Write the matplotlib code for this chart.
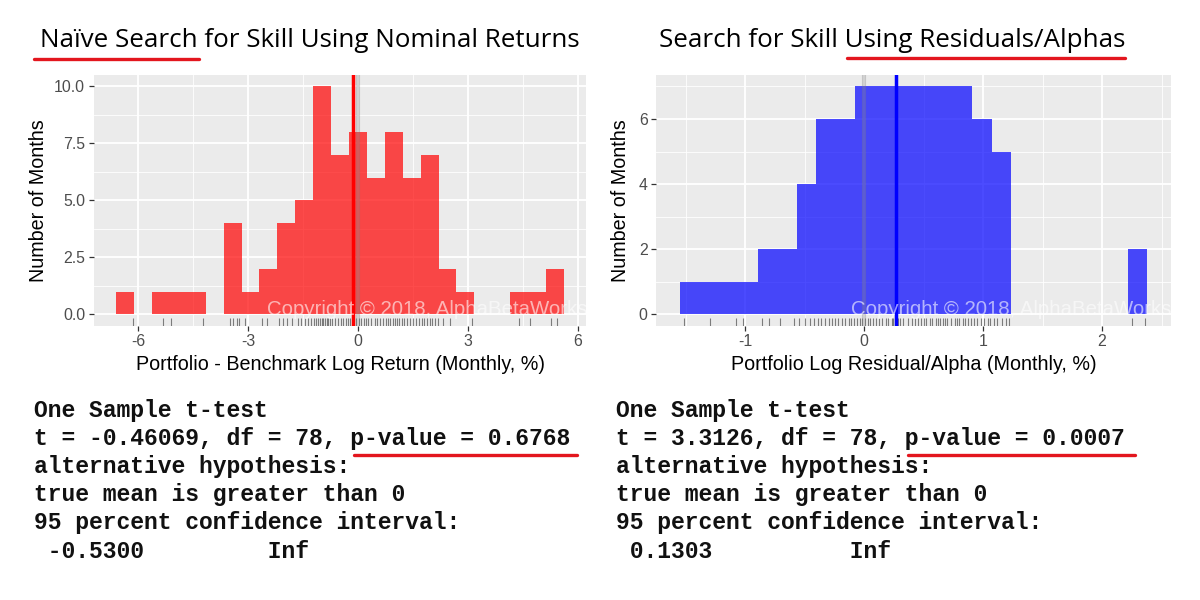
import matplotlib
matplotlib.use("Agg")
import matplotlib.pyplot as plt
from matplotlib.lines import Line2D
from matplotlib.ticker import MultipleLocator, FixedLocator
import matplotlib.transforms as mtransforms

W, H = 1200, 600

# ---- data ----
left_title = "Naïve Search for Skill Using Nominal Returns"
right_title = "Search for Skill Using Residuals/Alphas"

left_xlabel = "Portfolio - Benchmark Log Return (Monthly, %)"
right_xlabel = "Portfolio Log Residual/Alpha (Monthly, %)"
ylabel = "Number of Months"

left_bin_start = -6.606
left_bin_width = 0.489
left_counts = [1, 0, 1, 1, 1, 0, 4, 1, 2, 4, 5, 10, 7, 8, 6, 8, 6, 7, 2, 1,
               0, 0, 1, 1, 2]
left_mean = -0.136

right_bin_start = -1.552
right_bin_width = 0.1639
right_counts = [1, 1, 1, 1, 2, 2, 4, 6, 6, 7, 7, 7, 7, 7, 7, 6, 5, 0, 0, 0,
                0, 0, 0, 2]
right_mean = 0.265

left_rug = [-6.15, -5.33, -5.10, -4.23, -3.50, -3.42, -3.32, -3.24, -3.08,
            -2.62, -2.50, -2.15, -2.05, -1.93, -1.80, -1.65, -1.55, -1.45,
            -1.38, -1.30, -1.20, -1.15, -1.10, -1.05, -1.00, -0.95, -0.90,
            -0.86, -0.81, -0.76, -0.70, -0.62, -0.55, -0.48, -0.40, -0.33,
            -0.27, -0.22, -0.15, -0.10, -0.05, 0.02, 0.08, 0.15, 0.21, 0.28,
            0.36, 0.45, 0.52, 0.60, 0.68, 0.76, 0.82, 0.88, 0.95, 1.01, 1.07,
            1.13, 1.19, 1.25, 1.33, 1.42, 1.50, 1.58, 1.66, 1.74, 1.80, 1.88,
            1.95, 2.02, 2.10, 2.17, 2.33, 2.50, 3.10, 4.39, 4.70, 5.28, 5.44]

right_rug = [-1.52, -1.30, -1.08, -1.02, -0.86, -0.80, -0.71, -0.59, -0.55,
             -0.50, -0.46, -0.42, -0.39, -0.36, -0.33, -0.30, -0.27, -0.25,
             -0.22, -0.19, -0.16, -0.13, -0.11, -0.09, -0.06, -0.04, -0.02,
             0.01, 0.03, 0.05, 0.07, 0.10, 0.12, 0.15, 0.18, 0.20, 0.23, 0.24,
             0.26, 0.27, 0.28, 0.30, 0.33, 0.37, 0.40, 0.43, 0.45, 0.48, 0.50,
             0.52, 0.55, 0.57, 0.60, 0.62, 0.64, 0.66, 0.68, 0.70, 0.73, 0.76,
             0.78, 0.80, 0.83, 0.85, 0.87, 0.90, 0.92, 0.95, 0.98, 1.01, 1.04,
             1.06, 1.09, 1.12, 1.16, 1.19, 1.22, 2.25, 2.36]

left_xticks = [-6, -3, 0, 3, 6]
left_yticks = [0, 2.5, 5, 7.5, 10]
left_yticklabels = ["0.0", "2.5", "5.0", "7.5", "10.0"]
right_xticks = [-1, 0, 1, 2]
right_yticks = [0, 2, 4, 6]

left_test = [
    "One Sample t-test",
    "t = -0.46069, df = 78, p-value = 0.6768",
    "alternative hypothesis:",
    "true mean is greater than 0",
    "95 percent confidence interval:",
    " -0.5300         Inf",
]
right_test = [
    "One Sample t-test",
    "t = 3.3126, df = 78, p-value = 0.0007",
    "alternative hypothesis:",
    "true mean is greater than 0",
    "95 percent confidence interval:",
    " 0.1303          Inf",
]

watermark = "Copyright © 2018, AlphaBetaWorks"

UL_RED = "#E3161E"


def fx(x):
    return x / W


def fy(y):
    return 1 - y / H


def draw_panel(ax, start, width, counts, mean, rug, color, xlim, ylim,
               xticks, yticks, yticklabels, xminor, yminor, wm_x):
    ax.set_facecolor("#EBEBEB")
    for s in ax.spines.values():
        s.set_visible(False)
    lefts = [start + i * width for i in range(len(counts))]
    ax.bar(lefts, counts, width=width, align="edge", color=color,
           alpha=0.7, linewidth=0, zorder=2)
    ax.set_xlim(*xlim)
    ax.set_ylim(*ylim)
    ax.xaxis.set_major_locator(FixedLocator(xticks))
    ax.yaxis.set_major_locator(FixedLocator(yticks))
    ax.set_yticklabels(yticklabels if yticklabels else [str(t) for t in yticks])
    ax.set_xticklabels([str(t) for t in xticks])
    ax.xaxis.set_minor_locator(MultipleLocator(xminor))
    ax.yaxis.set_minor_locator(MultipleLocator(yminor))
    ax.grid(which="major", color="white", linewidth=1.3, zorder=0)
    ax.grid(which="minor", color="white", linewidth=0.6, zorder=0)
    ax.set_axisbelow(True)
    ax.tick_params(which="major", length=3.3, width=0.9, color="#333333",
                   labelsize=11.4, labelcolor="#4D4D4D", pad=3)
    ax.tick_params(which="minor", length=0)

    trans = mtransforms.blended_transform_factory(ax.transData, ax.transAxes)
    for v in rug:
        ax.plot([v, v], [0, 0.03], color="#333333", alpha=0.6, lw=0.8,
                transform=trans, zorder=3, solid_capstyle="butt")

    ax.axvline(0, color="gray", alpha=0.35, lw=3, zorder=3)
    ax.axvline(mean, color=color, lw=2.5, zorder=4)

    ax.text(wm_x, 0.063, watermark, transform=ax.transAxes, ha="left",
            va="center", color="white", alpha=0.6, fontsize=14.7,
            clip_on=True, zorder=5)


plt.rcParams["font.family"] = ["Liberation Sans", "DejaVu Sans"]

fig = plt.figure(figsize=(12, 6), dpi=100)
fig.patch.set_facecolor("white")

# panels (pixel boxes from the reference)
lx0, lx1 = 93.9, 586.2
rx0, rx1 = 656.3, 1170.9
ptop, pbot = 75.0, 325.7

axl = fig.add_axes([fx(lx0), fy(pbot), (lx1 - lx0) / W, (pbot - ptop) / H])
axr = fig.add_axes([fx(rx0), fy(pbot), (rx1 - rx0) / W, (pbot - ptop) / H])

draw_panel(axl, left_bin_start, left_bin_width, left_counts, left_mean,
           left_rug, "red", (-7.217, 6.230), (-0.5, 10.5),
           left_xticks, left_yticks, left_yticklabels, 1.5, 1.25, 0.352)
draw_panel(axr, right_bin_start, right_bin_width, right_counts, right_mean,
           right_rug, "blue", (-1.749, 2.579), (-0.35, 7.35),
           right_xticks, right_yticks, None, 0.5, 1.0, 0.378)

# axis titles
fig.text(fx((lx0 + lx1) / 2), fy(365), left_xlabel, ha="center", va="center",
         fontsize=14.2, color="black")
fig.text(fx((rx0 + rx1) / 2), fy(365), right_xlabel, ha="center",
         va="center", fontsize=14.2, color="black")
fig.text(fx(38.3), fy((ptop + pbot) / 2), ylabel, rotation=90, ha="center",
         va="center", fontsize=14.2, color="black")
fig.text(fx(621), fy((ptop + pbot) / 2), ylabel, rotation=90, ha="center",
         va="center", fontsize=14.2, color="black")

# headline titles
fig.text(fx(40), fy(46.7), left_title, ha="left", va="baseline",
         fontsize=18.7, family=["Open Sans", "DejaVu Sans"], color="black")
fig.text(fx(659.4), fy(46.7), right_title, ha="left", va="baseline",
         fontsize=18.7, family=["Open Sans", "DejaVu Sans"], color="black")

# t-test printouts
for i, (ltxt, rtxt) in enumerate(zip(left_test, right_test)):
    yb = 416.7 + i * 28.2
    fig.text(fx(33.8), fy(yb), ltxt, ha="left", va="baseline",
             family=["Liberation Mono", "DejaVu Sans Mono"],
             fontweight="bold", fontsize=16.6, color="#111111")
    fig.text(fx(616), fy(yb), rtxt, ha="left", va="baseline",
             family=["Liberation Mono", "DejaVu Sans Mono"],
             fontweight="bold", fontsize=16.6, color="#111111")

# red underlines
for x0, x1, y in [(33.7, 198.5, 59.3), (847, 1125, 57.5),
                  (353.8, 577, 455), (907.7, 1134.6, 455)]:
    fig.add_artist(Line2D([fx(x0), fx(x1)], [fy(y), fy(y)],
                          transform=fig.transFigure, color=UL_RED, lw=2.4,
                          solid_capstyle="round"))

fig.savefig("out.png", dpi=100)
